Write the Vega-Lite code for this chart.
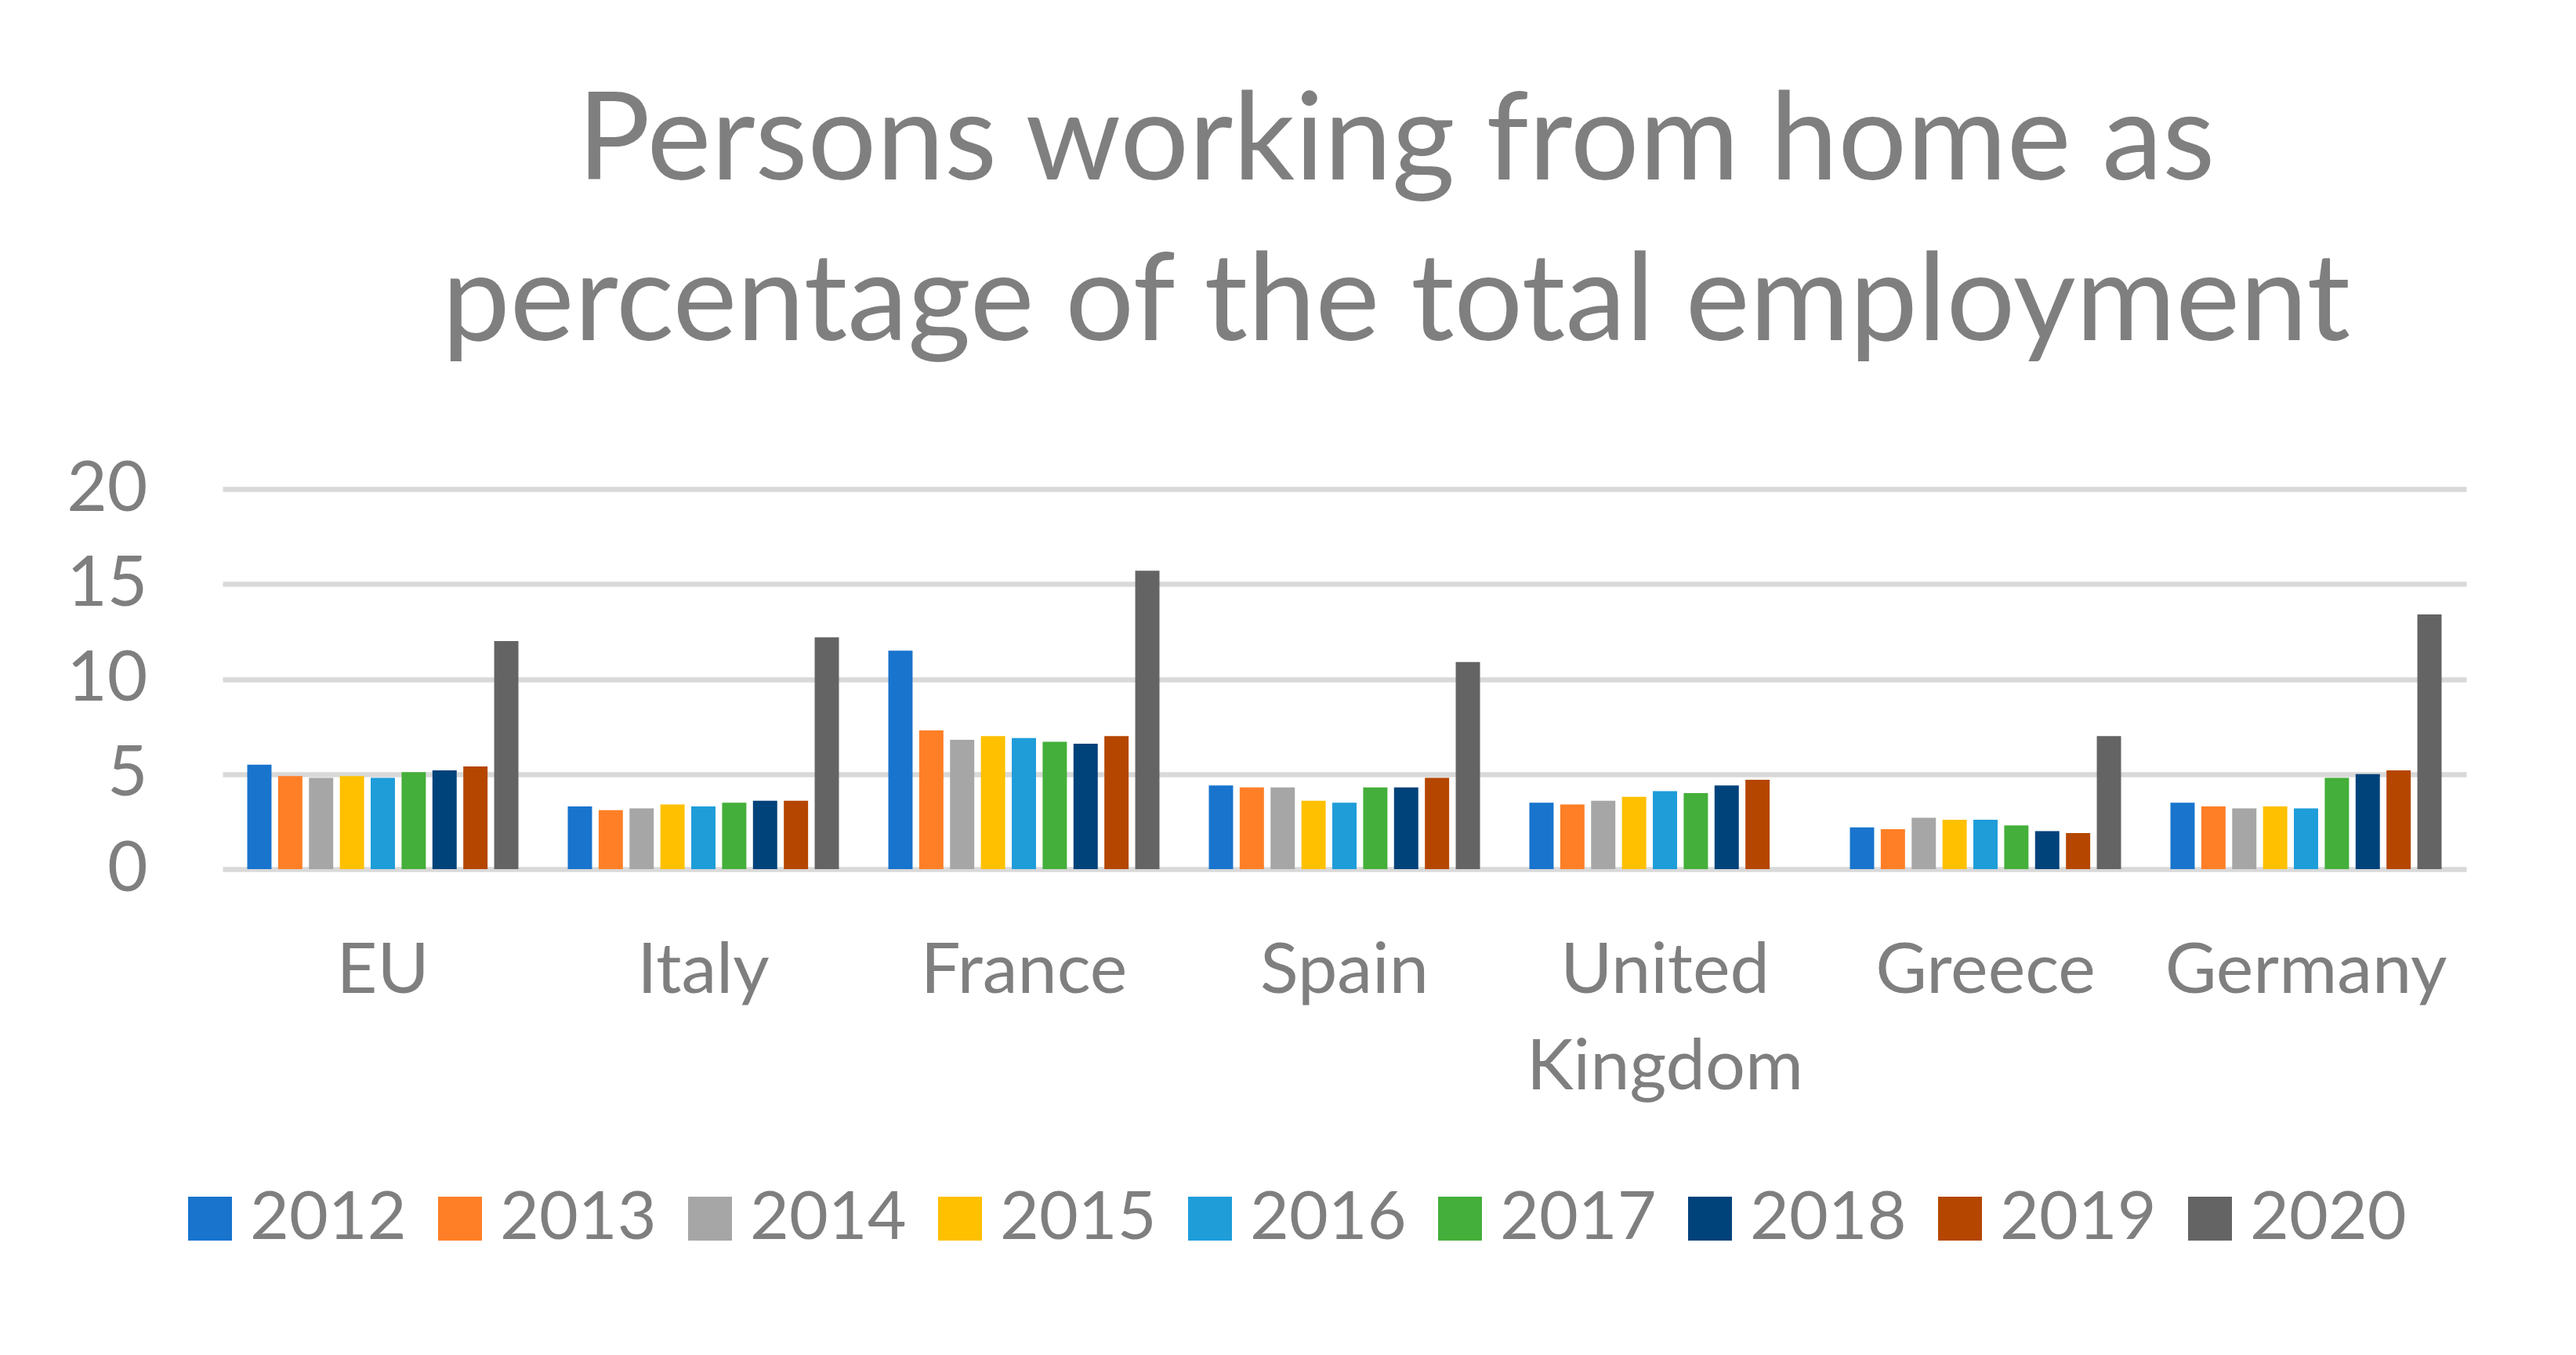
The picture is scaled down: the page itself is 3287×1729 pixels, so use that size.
{
  "$schema": "https://vega.github.io/schema/vega-lite/v6.json",
  "width": 2863,
  "height": 485,
  "autosize": {"type": "none"},
  "padding": {"left": 284, "top": 624, "right": 140, "bottom": 620},
  "background": "white",
  "title": {
    "text": ["Persons working from home as", "percentage of the total employment"],
    "font": "Lato",
    "fontSize": 155,
    "fontWeight": "normal",
    "color": "#7f7f7f",
    "lineHeight": 205,
    "anchor": "middle",
    "dx": 66,
    "offset": 113
  },
  "config": {
    "view": {"stroke": null},
    "font": "Lato"
  },
  "data": {
    "values": [
      {"country": "EU", "year": "2012", "value": 5.5},
      {"country": "EU", "year": "2013", "value": 4.9},
      {"country": "EU", "year": "2014", "value": 4.8},
      {"country": "EU", "year": "2015", "value": 4.9},
      {"country": "EU", "year": "2016", "value": 4.8},
      {"country": "EU", "year": "2017", "value": 5.1},
      {"country": "EU", "year": "2018", "value": 5.2},
      {"country": "EU", "year": "2019", "value": 5.4},
      {"country": "EU", "year": "2020", "value": 12.0},
      {"country": "Italy", "year": "2012", "value": 3.3},
      {"country": "Italy", "year": "2013", "value": 3.1},
      {"country": "Italy", "year": "2014", "value": 3.2},
      {"country": "Italy", "year": "2015", "value": 3.4},
      {"country": "Italy", "year": "2016", "value": 3.3},
      {"country": "Italy", "year": "2017", "value": 3.5},
      {"country": "Italy", "year": "2018", "value": 3.6},
      {"country": "Italy", "year": "2019", "value": 3.6},
      {"country": "Italy", "year": "2020", "value": 12.2},
      {"country": "France", "year": "2012", "value": 11.5},
      {"country": "France", "year": "2013", "value": 7.3},
      {"country": "France", "year": "2014", "value": 6.8},
      {"country": "France", "year": "2015", "value": 7.0},
      {"country": "France", "year": "2016", "value": 6.9},
      {"country": "France", "year": "2017", "value": 6.7},
      {"country": "France", "year": "2018", "value": 6.6},
      {"country": "France", "year": "2019", "value": 7.0},
      {"country": "France", "year": "2020", "value": 15.7},
      {"country": "Spain", "year": "2012", "value": 4.4},
      {"country": "Spain", "year": "2013", "value": 4.3},
      {"country": "Spain", "year": "2014", "value": 4.3},
      {"country": "Spain", "year": "2015", "value": 3.6},
      {"country": "Spain", "year": "2016", "value": 3.5},
      {"country": "Spain", "year": "2017", "value": 4.3},
      {"country": "Spain", "year": "2018", "value": 4.3},
      {"country": "Spain", "year": "2019", "value": 4.8},
      {"country": "Spain", "year": "2020", "value": 10.9},
      {"country": "United Kingdom", "year": "2012", "value": 3.5},
      {"country": "United Kingdom", "year": "2013", "value": 3.4},
      {"country": "United Kingdom", "year": "2014", "value": 3.6},
      {"country": "United Kingdom", "year": "2015", "value": 3.8},
      {"country": "United Kingdom", "year": "2016", "value": 4.1},
      {"country": "United Kingdom", "year": "2017", "value": 4.0},
      {"country": "United Kingdom", "year": "2018", "value": 4.4},
      {"country": "United Kingdom", "year": "2019", "value": 4.7},
      {"country": "Greece", "year": "2012", "value": 2.2},
      {"country": "Greece", "year": "2013", "value": 2.1},
      {"country": "Greece", "year": "2014", "value": 2.7},
      {"country": "Greece", "year": "2015", "value": 2.6},
      {"country": "Greece", "year": "2016", "value": 2.6},
      {"country": "Greece", "year": "2017", "value": 2.3},
      {"country": "Greece", "year": "2018", "value": 2.0},
      {"country": "Greece", "year": "2019", "value": 1.9},
      {"country": "Greece", "year": "2020", "value": 7.0},
      {"country": "Germany", "year": "2012", "value": 3.5},
      {"country": "Germany", "year": "2013", "value": 3.3},
      {"country": "Germany", "year": "2014", "value": 3.2},
      {"country": "Germany", "year": "2015", "value": 3.3},
      {"country": "Germany", "year": "2016", "value": 3.2},
      {"country": "Germany", "year": "2017", "value": 4.8},
      {"country": "Germany", "year": "2018", "value": 5.0},
      {"country": "Germany", "year": "2019", "value": 5.2},
      {"country": "Germany", "year": "2020", "value": 13.4}
    ]
  },
  "mark": {"type": "bar"},
  "encoding": {
    "x": {
      "field": "country",
      "type": "nominal",
      "sort": ["EU", "Italy", "France", "Spain", "United Kingdom", "Greece", "Germany"],
      "scale": {"paddingInner": 0.154, "paddingOuter": 0.077},
      "axis": {
        "title": null,
        "domain": false,
        "ticks": false,
        "grid": false,
        "labelAngle": 0,
        "labelFont": "Lato",
        "labelFontSize": 90,
        "labelColor": "#7f7f7f",
        "labelPadding": 86,
        "labelLineHeight": 123,
        "labelLimit": 1000,
        "labelExpr": "datum.label == 'United Kingdom' ? ['United', 'Kingdom'] : datum.label"
      }
    },
    "xOffset": {
      "field": "year",
      "type": "nominal",
      "scale": {"paddingInner": 0.214, "paddingOuter": 0}
    },
    "y": {
      "field": "value",
      "type": "quantitative",
      "scale": {"domain": [0, 20], "nice": false},
      "axis": {
        "title": null,
        "values": [0, 5, 10, 15, 20],
        "grid": true,
        "gridColor": "#d9d9d9",
        "gridWidth": 6.5,
        "domain": false,
        "ticks": false,
        "labelFont": "Lato",
        "labelFontSize": 89,
        "labelColor": "#7f7f7f",
        "labelPadding": 96
      }
    },
    "color": {
      "field": "year",
      "type": "nominal",
      "scale": {
        "domain": ["2012", "2013", "2014", "2015", "2016", "2017", "2018", "2019", "2020"],
        "range": ["#1874cd", "#ff7f27", "#a6a6a6", "#ffc000", "#1e9dd9", "#44af3a", "#00427a", "#b54600", "#646464"]
      },
      "legend": {
        "title": null,
        "orient": "none",
        "direction": "horizontal",
        "legendX": -59,
        "legendY": 888,
        "symbolType": "square",
        "symbolSize": 3136,
        "symbolStrokeWidth": 0,
        "symbolOpacity": 1,
        "labelFont": "Lato",
        "labelFontSize": 86,
        "labelColor": "#7f7f7f",
        "labelOffset": 8,
        "labelLimit": 400,
        "columnPadding": 25
      }
    }
  }
}
